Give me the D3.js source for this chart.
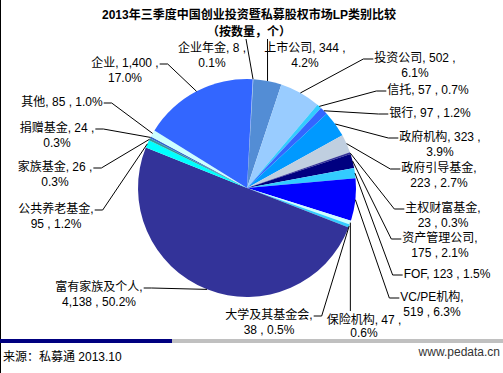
<!DOCTYPE html>
<html>
<head>
<meta charset="utf-8">
<script src="https://cdn.jsdelivr.net/npm/d3@7"></script>
<style>
  body { margin: 0; background: #fff; }
  text { font-family: "Liberation Sans", Arial, "Noto Sans CJK SC", sans-serif; }
</style>
</head>
<body>
<div id="chart"></div>
<script>
// LP categories, clockwise from the top
var categories = ["企业年金", "上市公司", "投资公司", "信托", "银行", "政府机构", "政府引导基金",
  "主权财富基金", "资产管理公司", "FOF", "VC/PE机构", "保险机构", "大学及其基金会",
  "富有家族及个人", "公共养老基金", "家族基金", "捐赠基金", "其他", "企业"];
var values = [8, 344, 502, 57, 97, 323, 223, 23, 175, 123, 519, 47, 38, 4138, 95, 26, 24, 85, 1400];

var palette = ["#a9cdf5", "#538dd5", "#99ccff", "#33ccff", "#3366ff", "#0099ff", "#c0cfe0",
  "#333399", "#000080", "#33ccff", "#0000ff", "#ccffff", "#33ccff",
  "#333399", "#00ffff", "#339999", "#3366cc", "#ccffff", "#3366ff"];

// label placement: x = centre of text, y = first baseline,
// side = where the leader line attaches, wrap = where the label breaks
var labelLayout = {
  "企业年金":     { x: 212, y: 52,  side: "top",   wrap: 1 },
  "上市公司":     { x: 305, y: 52,  side: "top",   wrap: 1 },
  "投资公司":     { x: 415, y: 62,  side: "left",  wrap: 1 },
  "信托":         { x: 428, y: 94,  side: "left",  wrap: 0 },
  "银行":         { x: 430, y: 117, side: "left",  wrap: 0 },
  "政府机构":     { x: 440, y: 141, side: "left",  wrap: 1 },
  "政府引导基金": { x: 439, y: 172, side: "left",  wrap: 2 },
  "主权财富基金": { x: 443, y: 212, side: "left",  wrap: 2 },
  "资产管理公司": { x: 440, y: 242, side: "left",  wrap: 2 },
  "FOF":          { x: 447, y: 278, side: "left",  wrap: 0 },
  "VC/PE机构":    { x: 432, y: 301, side: "left",  wrap: 2 },
  "保险机构":     { x: 364, y: 324, side: "top",   wrap: 1, gap: 13 },
  "大学及其基金会": { x: 269, y: 319, side: "right", wrap: 2 },
  "富有家族及个人": { x: 99,  y: 291, side: "right", wrap: 2 },
  "公共养老基金": { x: 56,  y: 213, side: "right", wrap: 2 },
  "家族基金":     { x: 55,  y: 171, side: "right", wrap: 1 },
  "捐赠基金":     { x: 57,  y: 132, side: "right", wrap: 1 },
  "其他":         { x: 62,  y: 106, side: "right", wrap: 0 },
  "企业":         { x: 125, y: 67,  side: "right", wrap: 1 }
};

var width = 503, height = 373;
var cx = 247, cy = 188, radius = 109;
var startAngle = 3 * Math.PI / 180;

var svg = d3.select("#chart")
  .append("svg")
  .attr("width", width)
  .attr("height", height);

// title
svg.append("text")
  .attr("x", 249)
  .attr("y", 19)
  .attr("text-anchor", "middle")
  .style("font-size", "12px")
  .style("font-weight", "bold")
  .text("2013年三季度中国创业投资暨私募股权市场LP类别比较");
svg.append("text")
  .attr("x", 249)
  .attr("y", 36)
  .attr("text-anchor", "middle")
  .style("font-size", "12px")
  .style("font-weight", "bold")
  .text("（按数量，个）");

var total = d3.sum(values);
var color = d3.scaleOrdinal(categories, palette);
var fmtPct = d3.format(".1%");
var fmtNum = d3.format(",");

var pie = d3.pie()
  .sort(null)
  .startAngle(startAngle)
  .endAngle(startAngle + 2 * Math.PI)
  .value(function (d) { return d.value; });

var data = categories.map(function (c, i) { return { name: c, value: values[i] }; });
var arcs = pie(data);

var arc = d3.arc().innerRadius(0).outerRadius(radius);
var edge = d3.arc().innerRadius(radius).outerRadius(radius);

var g = svg.append("g")
  .attr("transform", "translate(" + cx + "," + cy + ")");

g.selectAll("path")
  .data(arcs)
  .enter()
  .append("path")
  .attr("d", arc)
  .style("fill", function (d) { return color(d.data.name); });

// labels and leader lines
var labels = svg.append("g");
var leaders = svg.append("g");

arcs.forEach(function (d) {
  var lay = labelLayout[d.data.name];
  var num = fmtNum(d.data.value);
  var pct = fmtPct(d.data.value / total);
  var gap = lay.gap || 15;
  var lines;
  if (lay.wrap === 0) lines = [d.data.name + ", " + num + " , " + pct];
  else if (lay.wrap === 1) lines = [d.data.name + ", " + num + " ,", pct];
  else lines = [d.data.name + ",", num + " , " + pct];

  var t = labels.append("text")
    .attr("text-anchor", "middle")
    .style("font-size", "12px")
    .style("fill", "#000");
  var first;
  lines.forEach(function (l, i) {
    var ts = t.append("tspan")
      .attr("x", lay.x)
      .attr("y", lay.y + i * gap)
      .text(l);
    if (i === 0) first = ts;
  });

  var w = first.node().getComputedTextLength();
  var p = edge.centroid(d);
  var px = p[0] + cx, py = p[1] + cy;
  var pts;
  var ya = lay.y - 3;
  if (lay.side === "left") {
    var lx = lay.x - w / 2 - 1;
    pts = [[px, py], [lx - 10, ya], [lx, ya]];
  } else if (lay.side === "right") {
    var rx = lay.x + w / 2 + 1;
    pts = [[px, py], [rx + 8, ya], [rx, ya]];
  } else {
    var ty = lay.y - 13;
    var tx = Math.max(lay.x - w / 2, Math.min(lay.x + w / 2, px));
    pts = [[px, py], [tx, ty]];
  }

  leaders.append("path")
    .attr("d", d3.line()(pts))
    .style("fill", "none")
    .style("stroke", "#000")
    .style("stroke-width", 1);
});

// frame and footer
svg.append("line")
  .attr("x1", 0.5).attr("x2", 0.5)
  .attr("y1", 0).attr("y2", height)
  .style("stroke", "#000");

svg.append("rect")
  .attr("x", 0).attr("y", 339)
  .attr("width", 172).attr("height", 4)
  .style("fill", "#000080");
svg.append("rect")
  .attr("x", 172).attr("y", 339)
  .attr("width", width - 172).attr("height", 4)
  .style("fill", "#c0c0c0");

svg.append("text")
  .attr("x", 3)
  .attr("y", 361)
  .style("font-size", "12px")
  .text("来源：私募通 2013.10");

svg.append("text")
  .attr("x", 500)
  .attr("y", 356)
  .attr("text-anchor", "end")
  .style("font-size", "12px")
  .style("fill", "#333")
  .text("www.pedata.cn");
</script>
</body>
</html>
